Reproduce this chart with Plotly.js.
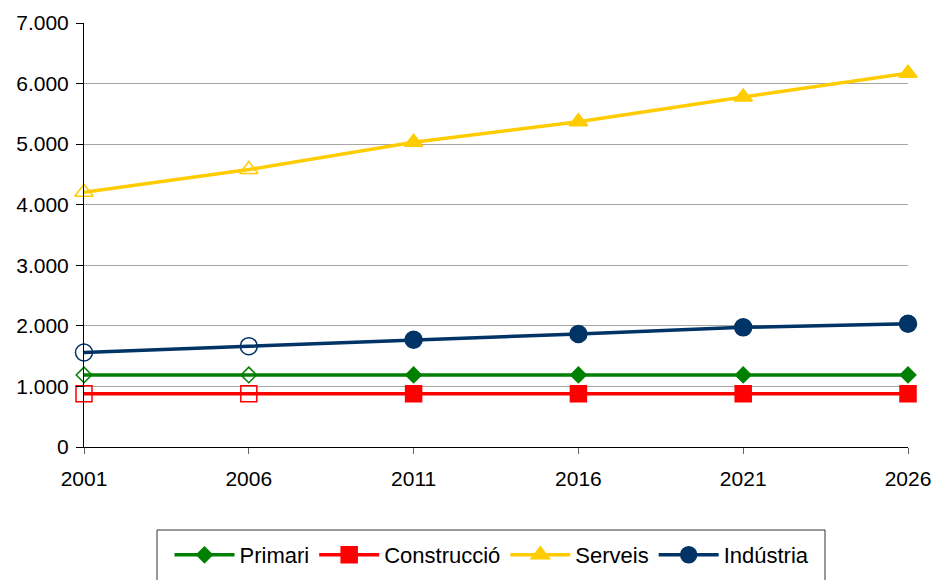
<!DOCTYPE html>
<html>
<head>
<meta charset="utf-8">
<script src="https://cdn.plot.ly/plotly-3.0.1.min.js"></script>
<style>
html,body{margin:0;padding:0;background:#fff;}
#chart{width:934px;height:580px;}
</style>
</head>
<body>
<div id="chart"></div>
<script>
var years = [2001, 2006, 2011, 2016, 2021, 2026];
var primari = [1190, 1190, 1190, 1190, 1190, 1190];
var construccio = [880, 880, 880, 880, 880, 880];
var serveis = [4205, 4580, 5030, 5370, 5780, 6170];
var industria = [1560, 1665, 1770, 1865, 1975, 2035];
var seriesNames = ['Primari', 'Construcció', 'Serveis', 'Indústria'];
var yTicks = [0, 1000, 2000, 3000, 4000, 5000, 6000, 7000];
var hollowCount = 2; // first points drawn with open markers

var specs = [
  {y: primari, color: '#008000', sym: 'diamond', size: 12},
  {y: construccio, color: '#FF0000', sym: 'square', size: 16},
  {y: serveis, color: '#FFCC00', sym: 'triangle-up', size: 16},
  {y: industria, color: '#003366', sym: 'circle', size: 17}
];

var traces = specs.map(function (s, i) {
  var x = years.slice().reverse();
  var y = s.y.slice().reverse();
  var n = x.length;
  var symbols = x.map(function (v, k) {
    return (k >= n - hollowCount) ? s.sym + '-open' : s.sym;
  });
  return {
    type: 'scatter',
    mode: 'lines+markers',
    name: seriesNames[i],
    x: x,
    y: y,
    cliponaxis: false,
    line: {color: s.color, width: 3.5},
    marker: {symbol: symbols, size: s.size, color: s.color,
             line: {color: s.color, width: 1.5}}
  };
});

var L = 84, R = 908, T = 23, B = 447;
var W = 934, H = 580;
var pw = R - L, ph = B - T;
function px(v) { return (v - L) / pw; }
function py(v) { return (B - v) / ph; }

var layout = {
  width: W, height: H,
  margin: {l: L, r: W - R, t: T, b: H - B, pad: 0, autoexpand: false},
  paper_bgcolor: '#ffffff',
  plot_bgcolor: '#ffffff',
  separators: ',.',
  font: {family: 'Liberation Sans, Arial, sans-serif', size: 21, color: '#000'},
  showlegend: true,
  xaxis: {
    type: 'linear',
    range: [years[0], years[years.length - 1]],
    tickvals: years,
    ticktext: years.map(String),
    showgrid: false,
    zeroline: false,
    showline: true,
    linecolor: '#000',
    linewidth: 1,
    ticks: 'outside',
    ticklen: 6,
    tickcolor: '#666',
    ticklabelstandoff: 7,
    automargin: false,
    tickfont: {size: 21, color: '#000'}
  },
  yaxis: {
    range: [0, 7000],
    tickvals: yTicks,
    tickformat: ',d',
    showgrid: true,
    gridcolor: '#A6A6A6',
    gridwidth: 1,
    zeroline: false,
    showline: true,
    linecolor: '#000',
    linewidth: 1,
    ticks: 'outside',
    ticklen: 7,
    tickcolor: '#000',
    ticklabelstandoff: 3,
    automargin: false,
    tickfont: {size: 21, color: '#000'}
  },
  legend: {
    orientation: 'h',
    x: px(492), xanchor: 'center',
    y: py(555), yanchor: 'middle',
    font: {size: 22, color: '#000'},
    bgcolor: 'rgba(0,0,0,0)',
    borderwidth: 0,
    itemwidth: 60,
    traceorder: 'normal'
  },
  shapes: [{
    type: 'rect', xref: 'paper', yref: 'paper',
    x0: px(157), x1: px(825), y0: py(530), y1: py(600),
    line: {color: '#333', width: 1}, fillcolor: 'rgba(0,0,0,0)'
  }]
};

Plotly.newPlot('chart', traces, layout, {displayModeBar: false, staticPlot: true});
</script>
</body>
</html>
